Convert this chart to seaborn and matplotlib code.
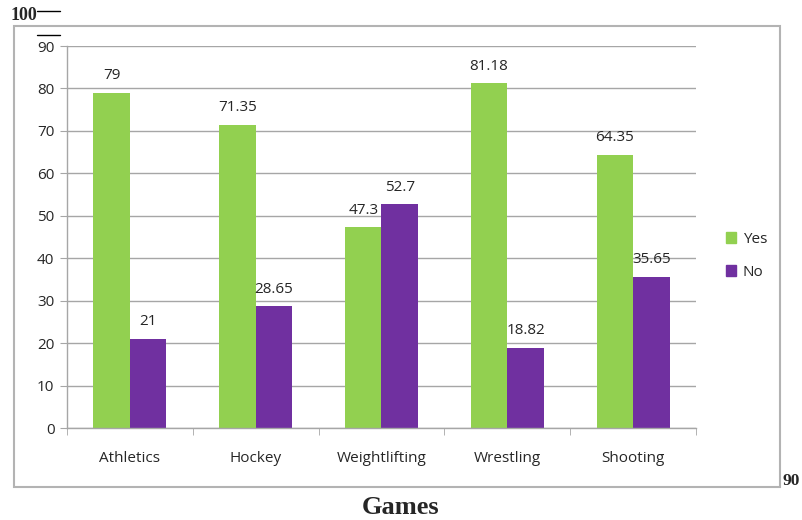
import matplotlib
matplotlib.use("Agg")
import matplotlib.pyplot as plt
import seaborn as sns
import pandas as pd
from matplotlib.patches import Rectangle
from matplotlib.lines import Line2D

games = ["Athletics", "Hockey", "Weightlifting", "Wrestling", "Shooting"]
yes_vals = [79, 71.35, 47.3, 81.18, 64.35]
no_vals = [21, 28.65, 52.7, 18.82, 35.65]
series = ["Yes", "No"]
colors = ["#92D050", "#7030A0"]
yticks = [0, 10, 20, 30, 40, 50, 60, 70, 80, 90]

df = pd.DataFrame({
    "Game": games * 2,
    "Value": yes_vals + no_vals,
    "Answer": ["Yes"] * len(games) + ["No"] * len(games),
})

sns.set_style("white")
plt.rcParams["font.family"] = ["Open Sans", "DejaVu Sans"]

W, H = 803, 520
fig = plt.figure(figsize=(W / 100, H / 100), dpi=100)

def fx(x):
    return x / W

def fy(y):
    return 1 - y / H

# outer border
fig.patches.append(Rectangle((fx(14), fy(487)), fx(780) - fx(14), fy(26) - fy(487),
                             transform=fig.transFigure, fill=False,
                             edgecolor="#b3b3b3", linewidth=1.5))

ax = fig.add_axes([fx(67), fy(428), fx(696) - fx(67), fy(46) - fy(428)])
sns.barplot(data=df, x="Game", y="Value", hue="Answer", hue_order=series,
            palette=colors, width=0.58, gap=0, saturation=1, ax=ax,
            edgecolor="none", legend=True)

ax.set_ylim(0, 90)
ax.set_xlim(-0.5, 4.5)
ax.set_yticks(yticks)
ax.yaxis.grid(True, color="#a6a6a6", linewidth=1)
ax.set_axisbelow(True)
for s in ["top", "right"]:
    ax.spines[s].set_visible(False)
for s in ["left", "bottom"]:
    ax.spines[s].set_color("#a6a6a6")
    ax.spines[s].set_linewidth(1)
ax.tick_params(axis="y", left=True, length=5, color="#a6a6a6", labelsize=11, pad=4)
ax.tick_params(axis="x", bottom=False, labelsize=11, pad=13)
ax.set_xticks([-0.5 + i for i in range(6)], minor=True)
ax.tick_params(axis="x", which="minor", bottom=True, length=5, color="#a6a6a6")
ax.set_xlabel("")
ax.set_ylabel("")

for c in ax.containers:
    ax.bar_label(c, labels=[f"{v:g}" for v in c.datavalues], padding=7, fontsize=11)

handles = [Rectangle((0, 0), 1, 1, color=col) for col in colors]
leg = ax.legend(handles, series, loc="center left", bbox_to_anchor=(fx(712), fy(256)),
                bbox_transform=fig.transFigure, frameon=False, fontsize=11,
                handlelength=0.7, handleheight=0.7, handletextpad=0.4, labelspacing=1.2)

# extra annotations
fig.text(fx(11), fy(16), "100", fontsize=13, fontweight="bold",
         family="Liberation Serif", va="center", ha="left")
fig.lines.append(Line2D([fx(37), fx(60)], [fy(11), fy(11)], transform=fig.transFigure,
                        color="black", linewidth=1))
fig.lines.append(Line2D([fx(37), fx(60)], [fy(35), fy(35)], transform=fig.transFigure,
                        color="black", linewidth=1))
fig.text(fx(783), fy(481), "90", fontsize=12.5, fontweight="bold",
         family="Liberation Serif", va="center", ha="left")
fig.text(fx(401), fy(507), "Games", fontsize=19, fontweight="bold",
         family="Liberation Serif", va="center", ha="center")

fig.savefig("out.png", dpi=100)
